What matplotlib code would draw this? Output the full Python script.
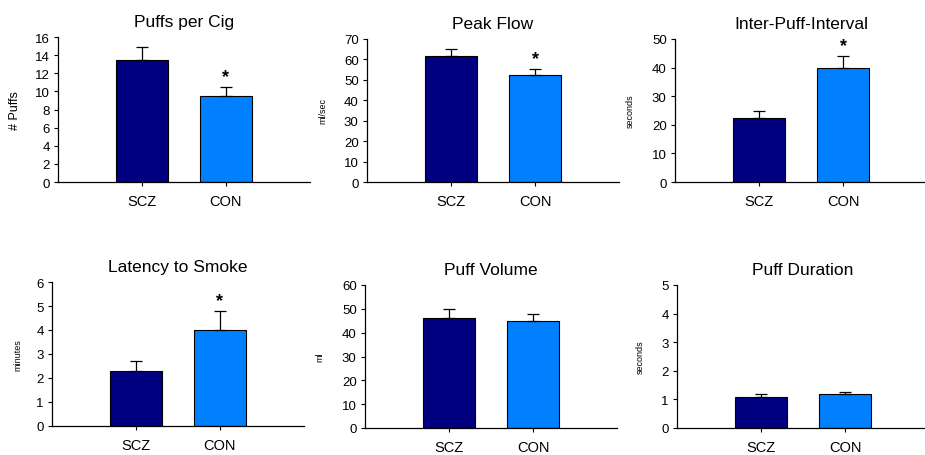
import matplotlib
matplotlib.use("Agg")
import matplotlib.pyplot as plt

groups = ["SCZ", "CON"]
titles = ["Puffs per Cig", "Peak Flow", "Inter-Puff-Interval",
          "Latency to Smoke", "Puff Volume", "Puff Duration"]
ylabels = ["# Puffs", "ml/sec", "seconds", "minutes", "ml", "seconds"]
means = [[13.5, 9.5], [61.5, 52.5], [22.3, 39.8],
         [2.3, 4.0], [46.3, 45.0], [1.1, 1.2]]
errors = [[1.4, 1.0], [3.8, 3.0], [2.4, 4.4],
          [0.4, 0.8], [3.7, 3.0], [0.08, 0.07]]
ymax = [16, 70, 50, 6, 60, 5]
ystep = [2, 10, 10, 1, 10, 1]
signif = [True, True, True, True, False, False]  # asterisk on CON

colors = ["#000080", "#0080FF"]
plt.rcParams['font.family'] = ['Liberation Sans', 'DejaVu Sans']

W, H = 925, 456
fig = plt.figure(figsize=(W / 100, H / 100), dpi=100)

# axes boxes in pixels: left, top(y of max tick), bottom(y of zero)
boxes = [(58, 38, 183), (367, 40, 183), (675, 40, 183),
         (52, 283, 427), (365, 286, 429), (677, 286, 429)]
ylab_x = [15, 323, 630, 18, 320, 640]

for i in range(6):
    left, top, bot = boxes[i]
    ax = fig.add_axes([left / W, 1 - bot / H, 252 / W, (bot - top) / H])
    x = [0, 1]
    ax.bar(x, means[i], width=0.62, color=colors, edgecolor="black",
           linewidth=0.8, zorder=2)
    ax.errorbar(x, means[i], yerr=[[0, 0], errors[i]], fmt="none",
                ecolor="black", elinewidth=0.9, capsize=4, capthick=0.9,
                zorder=3)
    if signif[i]:
        ax.annotate("*", (1, means[i][1] + errors[i][1]),
                    xytext=(0, 1), textcoords="offset points",
                    ha="center", va="bottom", fontsize=13, fontweight="bold")
    ax.set_xlim(-1, 2)
    ax.set_ylim(0, ymax[i])
    ticks = [k * ystep[i] for k in range(int(ymax[i] / ystep[i]) + 1)]
    ax.set_yticks(ticks)
    ax.set_xticks(x)
    ax.set_xticklabels(groups, fontsize=10.5)
    ax.tick_params(axis="y", labelsize=9.5, length=3, width=0.8, pad=3)
    ax.tick_params(axis="x", length=3, width=0.8, pad=6)
    ax.set_title(titles[i], fontsize=12.5, pad=8)
    for s in ["top", "right"]:
        ax.spines[s].set_visible(False)
    for s in ["left", "bottom"]:
        ax.spines[s].set_linewidth(0.9)
    ax.patch.set_alpha(0)
    fs = 9 if i == 0 else 6.5
    fig.text(ylab_x[i] / W, 1 - (top + bot) / 2 / H, ylabels[i],
             rotation=90, ha="center", va="center", fontsize=fs)

fig.savefig("out.png", dpi=100)
